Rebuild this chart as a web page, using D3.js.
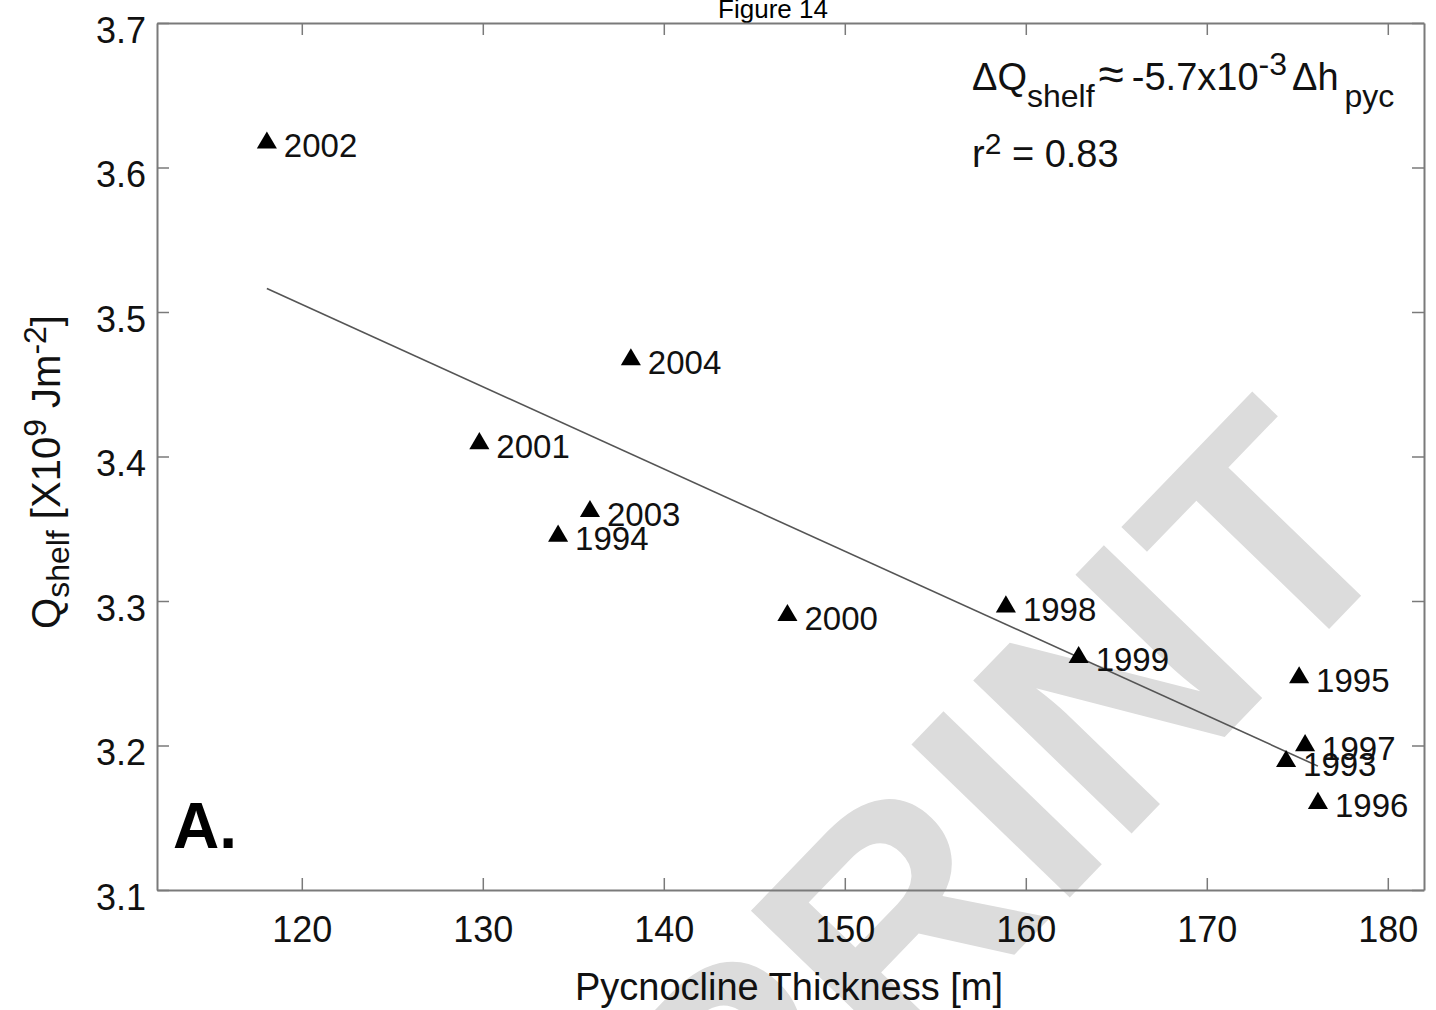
<!DOCTYPE html>
<html>
<head>
<meta charset="utf-8">
<script src="https://cdn.jsdelivr.net/npm/d3@7"></script>
<style>
  html, body { margin: 0; padding: 0; background: #ffffff; }
  svg { display: block; font-family: "Liberation Sans", Arial, Helvetica, sans-serif; }
</style>
</head>
<body>
<svg id="chart" width="1436" height="1010"></svg>
<script>
// ---- data ----
const years      = ["2002", "2004", "2001", "2003", "1994", "2000", "1998", "1999", "1995", "1997", "1993", "1996"];
const thickness  = [118.07, 138.18, 129.81, 135.92, 134.16, 146.83, 158.90, 162.92, 175.10, 175.43, 174.38, 176.14];
const qShelf     = [3.619,  3.469,  3.411,  3.364,  3.347,  3.292,  3.298,  3.263,  3.249,  3.202,  3.191,  3.162];
const xTickVals  = [120, 130, 140, 150, 160, 170, 180];
const yTickVals  = [3.1, 3.2, 3.3, 3.4, 3.5, 3.6, 3.7];
const xDomain    = [112, 182];
const yDomain    = [3.1, 3.7];

// ---- layout ----
const svg = d3.select("#chart");
const L = 157, R = 1424, T = 23, B = 890;
const x = d3.scaleLinear().domain(xDomain).range([L, R]);
const y = d3.scaleLinear().domain(yDomain).range([B, T]);
const axisColor = "#7a7a7a";

// ---- watermark (behind everything) ----
svg.append("text")
  .attr("transform", "translate(1413,542) rotate(-46)")
  .attr("text-anchor", "end")
  .attr("font-size", 320)
  .attr("font-weight", "bold")
  .attr("fill", "#dcdcdc")
  .text("PRINT");

// ---- title ----
svg.append("text")
  .attr("x", 773).attr("y", 18)
  .attr("text-anchor", "middle")
  .attr("font-size", 26)
  .attr("fill", "#000")
  .text("Figure 14");

// ---- axes ----
const gx = svg.append("g").attr("transform", `translate(0,${B})`)
  .call(d3.axisBottom(x).tickValues(xTickVals).tickSizeInner(-12).tickSizeOuter(0).tickPadding(26).tickFormat(d3.format("d")));
const gxTop = svg.append("g").attr("transform", `translate(0,${T})`)
  .call(d3.axisTop(x).tickValues(xTickVals).tickSizeInner(-12).tickSizeOuter(0).tickFormat(""));
const gy = svg.append("g").attr("transform", `translate(${L},0)`)
  .call(d3.axisLeft(y).tickValues(yTickVals).tickSizeInner(-12).tickSizeOuter(0).tickPadding(11).tickFormat(d3.format(".1f")));
const gyRight = svg.append("g").attr("transform", `translate(${R},0)`)
  .call(d3.axisRight(y).tickValues(yTickVals).tickSizeInner(-12).tickSizeOuter(0).tickFormat(""));

[gx, gxTop, gy, gyRight].forEach(g => {
  g.select(".domain").attr("stroke", axisColor).attr("stroke-width", 2);
  g.selectAll(".tick line").attr("stroke", axisColor).attr("stroke-width", 1.5);
  g.selectAll(".tick text").attr("fill", "#111").attr("font-size", 36)
    .attr("font-family", "'Liberation Sans', Arial, sans-serif");
});
gy.selectAll(".tick text").attr("dy", "0.53em");
gx.selectAll(".tick text").attr("dy", "0.71em");

// ---- regression line (least squares from the data) ----
const mx = d3.mean(thickness), my = d3.mean(qShelf);
let sxy = 0, sxx = 0;
thickness.forEach((v, i) => { sxy += (v - mx) * (qShelf[i] - my); sxx += (v - mx) * (v - mx); });
const slope = sxy / sxx, intercept = my - slope * mx;
const xr = d3.extent(thickness);
svg.append("path")
  .datum(xr.map(v => [v, intercept + slope * v]))
  .attr("d", d3.line().x(d => x(d[0])).y(d => y(d[1])))
  .attr("fill", "none")
  .attr("stroke", "#555")
  .attr("stroke-width", 1.6);

// ---- markers (upward triangles, bbox-centred) ----
const tri = {
  draw(ctx, size) {
    const w = Math.sqrt(size) * 0.76, h = w * 0.85;
    ctx.moveTo(0, -h / 2);
    ctx.lineTo(w / 2, h / 2);
    ctx.lineTo(-w / 2, h / 2);
    ctx.closePath();
  }
};
const pts = years.map((yr, i) => ({ yr, h: thickness[i], q: qShelf[i] }));
svg.append("g").selectAll("path").data(pts).join("path")
  .attr("transform", d => `translate(${x(d.h)},${y(d.q)})`)
  .attr("d", d3.symbol().type(tri).size(700))
  .attr("fill", "#000");

svg.append("g").selectAll("text").data(pts).join("text")
  .attr("x", d => x(d.h) + 17)
  .attr("y", d => y(d.q) + 17)
  .attr("font-size", 33)
  .attr("fill", "#111")
  .text(d => d.yr);

// ---- panel letter ----
svg.append("text")
  .attr("x", 173).attr("y", 848)
  .attr("font-size", 64).attr("font-weight", "bold")
  .attr("fill", "#000")
  .text("A.");

// ---- equation annotation ----
const eq = svg.append("text").attr("x", 972).attr("y", 90).attr("font-size", 38).attr("fill", "#111");
eq.append("tspan").text("\u0394Q");
eq.append("tspan").attr("font-size", 32).attr("dy", 17).text("shelf");
eq.append("tspan").attr("dy", -17).attr("dx", 4).attr("font-size", 46).text("\u2248");
eq.append("tspan").attr("dx", 8).text("-5.7x10");
eq.append("tspan").attr("font-size", 32).attr("dy", -15).text("-3");
eq.append("tspan").attr("dy", 15).attr("dx", 5).text("\u0394h");
eq.append("tspan").attr("font-size", 32).attr("dy", 17).attr("dx", 6).text("pyc");

const r2 = svg.append("text").attr("x", 972).attr("y", 167).attr("font-size", 38).attr("fill", "#111");
r2.append("tspan").text("r");
r2.append("tspan").attr("font-size", 30).attr("dy", -13).text("2");
r2.append("tspan").attr("dy", 13).text(" = 0.83");

// ---- axis labels ----
svg.append("text")
  .attr("x", 789).attr("y", 1000)
  .attr("text-anchor", "middle")
  .attr("font-size", 38).attr("fill", "#111")
  .text("Pycnocline Thickness [m]");

const yl = svg.append("text")
  .attr("transform", "translate(60,472) rotate(-90)")
  .attr("text-anchor", "middle")
  .attr("font-size", 40).attr("fill", "#111");
yl.append("tspan").text("Q");
yl.append("tspan").attr("font-size", 32).attr("dy", 9).text("shelf");
yl.append("tspan").attr("dy", -9).text(" [X10");
yl.append("tspan").attr("font-size", 32).attr("dy", -14).text("9");
yl.append("tspan").attr("dy", 14).text(" Jm");
yl.append("tspan").attr("font-size", 32).attr("dy", -14).text("-2");
yl.append("tspan").attr("dy", 14).text("]");
</script>
</body>
</html>
